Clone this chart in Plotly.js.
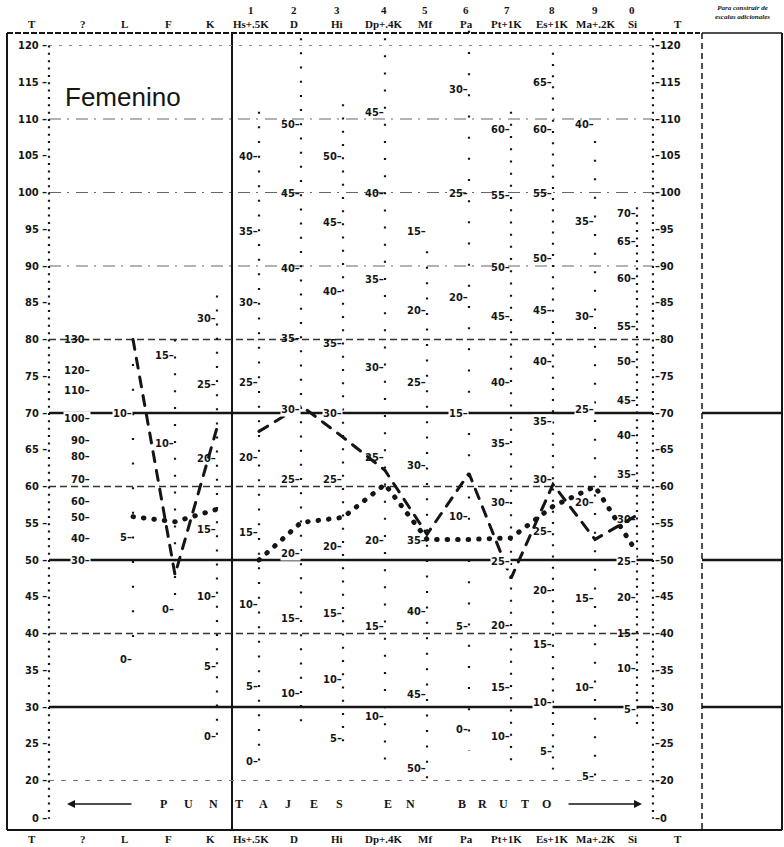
<!DOCTYPE html>
<html><head><meta charset="utf-8">
<script src="https://cdn.plot.ly/plotly-3.0.1.min.js"></script>
<style>
html,body{margin:0;padding:0;background:#fff;}
#chart{width:784px;height:847px;}
.scatterlayer .js-line{stroke-linecap:round !important;}
</style></head><body><div id="chart"></div>
<script>
// ================= DATA =================
const columns = ['T','?','L','F','K','Hs+.5K','D','Hi','Dp+.4K','Mf','Pa','Pt+1K','Es+1K','Ma+.2K','Si'];
const validityScales = ['L','F','K'];
const clinicalScales = ['Hs+.5K','D','Hi','Dp+.4K','Mf','Pa','Pt+1K','Es+1K','Ma+.2K','Si'];
const scaleNumbers = ['1','2','3','4','5','6','7','8','9','0'];

// profile 1 (dashed line), T scores
const dashedValidityT = [80, 48, 68];
const dashedClinicalT = [67.5, 71, 66.7, 62.2, 53.5, 61.8, 47.5, 60.3, 52.8, 56.1];
// profile 2 (dotted line), T scores
const dottedValidityT = [55.9, 55.2, 56.9];
const dottedClinicalT = [50, 55.1, 55.8, 60.3, 52.8, 52.8, 53.0, 57.3, 60.0, 51.0];

// T-score axis labels
const tTickLabels = [120,115,110,105,100,95,90,85,80,75,70,65,60,55,50,45,40,35,30,25,20];
const tZeroLabel = '0';

// raw-score labels of each column: [raw score, T position]
const rawQuestion = [[130,80],[120,75.8],[110,73.1],[100,69.3],[90,66.2],[80,64.1],[70,61.0],[60,58.0],[50,55.8],[40,52.9],[30,50.0]];
const rawL  = [[10,70],[5,53],[0,36.5]];
const rawF  = [[15,77.8],[10,65.8],[0,43.2]];
const rawK  = [[30,82.8],[25,73.9],[20,63.8],[15,54.2],[10,45],[5,35.5],[0,26]];
const rawHs = [[40,104.9],[35,94.7],[30,85.1],[25,74.2],[20,63.9],[15,53.8],[10,43.9],[5,32.8],[0,22.6]];
const rawD  = [[50,109.3],[45,99.9],[40,89.7],[35,80.1],[30,70.5],[25,60.9],[20,50.9],[15,42.0],[10,31.9]];
const rawHi = [[50,104.9],[45,95.9],[40,86.5],[35,79.4],[30,70.0],[25,60.9],[20,51.8],[15,42.7],[10,33.7],[5,25.7]];
const rawDp = [[45,110.9],[40,99.9],[35,88.2],[30,76.2],[25,63.9],[20,52.7],[15,40.9],[10,28.7]];
const rawMf = [[15,94.7],[20,83.9],[25,74.2],[30,62.9],[35,52.7],[40,43.0],[45,31.7],[50,21.6]];
const rawPa = [[30,114.0],[25,99.9],[20,85.7],[15,70.0],[10,55.9],[5,40.9],[0,26.9]];
const rawPt = [[60,108.6],[55,99.6],[50,89.8],[45,83.1],[40,74.2],[35,65.9],[30,57.8],[25,49.8],[20,41.1],[15,32.6],[10,26.0]];
const rawEs = [[65,115.0],[60,108.6],[55,99.9],[50,91.0],[45,83.9],[40,77.0],[35,68.8],[30,61.0],[25,53.9],[20,45.9],[15,38.5],[10,30.6],[5,23.9]];
const rawMa = [[40,109.3],[35,96.0],[30,83.1],[25,70.5],[20,57.8],[15,44.8],[10,32.6],[5,20.5]];
const rawSi = [[70,97.1],[65,93.4],[60,88.3],[55,81.8],[50,77.0],[45,71.7],[40,66.9],[35,61.7],[30,55.5],[25,49.8],[20,44.9],[15,40.0],[10,35.3],[5,29.7]];

const rawByColumn = [['?',rawQuestion],['L',rawL],['F',rawF],['K',rawK],['Hs+.5K',rawHs],['D',rawD],['Hi',rawHi],
  ['Dp+.4K',rawDp],['Mf',rawMf],['Pa',rawPa],['Pt+1K',rawPt],['Es+1K',rawEs],['Ma+.2K',rawMa],['Si',rawSi]];

// ================= LAYOUT GEOMETRY =================
const W = 784, H = 847;
const COL0 = 49, COLSTEP = 42;        // px of column 0 and column spacing
const T50PX = 560, PXPERT = 7.35;     // px of T=50 and px per T point
const ZERO_POS = 14.8;                // axis position of the "0" mark (axis break)
const RIGHT_T = 14.38;                // column position of right T axis
const xRange = [(0 - COL0) / COLSTEP, (W - COL0) / COLSTEP];
const yRange = [50 - (H - T50PX) / PXPERT, 50 + T50PX / PXPERT];
const PX = px => px / W, PY = py => 1 - py / H;
const ci = name => columns.indexOf(name);

const ink = '#151515';
const tickFont = {family: '"Liberation Sans Narrow","DejaVu Sans Condensed","Arial Narrow",sans-serif', size: 11, color: ink, weight: 'bold'};
const headFont = {family: '"Liberation Serif","DejaVu Serif",serif', size: 11, color: ink, weight: 'bold'};

// ================= TRACES =================
const dashedLine = {color: ink, width: 3, dash: '10px,9px'};
const dottedLine = {color: ink, width: 5, dash: '0.5px,10px'};
const traces = [
  {x: validityScales.map(ci), y: dashedValidityT, mode: 'lines', line: dashedLine, name: 'perfil 1'},
  {x: clinicalScales.map(ci), y: dashedClinicalT, mode: 'lines', line: dashedLine, name: 'perfil 1'},
  {x: validityScales.map(ci), y: dottedValidityT, mode: 'lines', line: dottedLine, name: 'perfil 2'},
  {x: clinicalScales.map(ci), y: dottedClinicalT, mode: 'lines', line: dottedLine, name: 'perfil 2'}
].map(t => Object.assign(t, {hoverinfo: 'skip', showlegend: false, cliponaxis: false}));

// ================= SHAPES =================
const shapes = [];
function pline(x0, y0, x1, y1, w, dash, color) {
  shapes.push({type: 'line', xref: 'paper', yref: 'paper', x0: PX(x0), y0: PY(y0), x1: PX(x1), y1: PY(y1),
    line: {color: color || ink, width: w, dash: dash || 'solid'}, layer: 'below'});
}
// frame
pline(7, 33, 7, 830, 2);
pline(7, 830, 782, 830, 2);
pline(7, 33, 700, 33, 2, '6px,2px');
pline(232, 33, 232, 830, 2);
pline(702, 33, 782, 33, 1.5);
pline(782, 33, 782, 830, 2);
pline(702, 33, 702, 830, 1.5, '6px,4px');

// horizontal T grid
const gridStyles = {
  120: ['#888', 1.1, '3px,7px'], 110: ['#666', 1.2, '12px,6px,2px,7px'], 100: ['#666', 1.2, '12px,6px,2px,7px'],
  90: ['#666', 1.2, '12px,6px,2px,7px'], 80: ['#333', 1.4, '7px,4px'], 70: [ink, 2.6, 'solid'],
  60: ['#333', 1.4, '7px,4px'], 50: [ink, 2.6, 'solid'], 40: ['#333', 1.4, '7px,4px'],
  30: [ink, 2.6, 'solid'], 20: ['#777', 1.1, '5px,7px']
};
Object.keys(gridStyles).forEach(k => {
  const t = +k, s = gridStyles[k];
  shapes.push({type: 'line', xref: 'paper', yref: 'y', x0: PX(49), x1: PX(653), y0: t, y1: t,
    line: {color: s[0], width: s[1], dash: s[2]}, layer: 'below'});
  if (t === 70 || t === 50 || t === 30) {
    shapes.push({type: 'line', xref: 'paper', yref: 'y', x0: PX(702), x1: PX(782), y0: t, y1: t,
      line: {color: s[0], width: s[1]}, layer: 'below'});
  }
});

// dotted column guides: [column, bottom T, top T, T per raw point]
const guides = [['L',36.5,80,3.35],['F',43.2,80,2.3],['K',26,86,1.92],['Hs+.5K',22.6,111,2.0],['D',27.6,121,1.93],
  ['Hi',24,112,1.8],['Dp+.4K',21,121,2.33],['Mf',20,92,2.1],['Pa',24,122,2.88],['Pt+1K',22,111,1.66],
  ['Es+1K',21.5,119,1.52],['Ma+.2K',20.5,107,2.53],['Si',27,98,1.03]];
guides.forEach(g => {
  const gap = Math.max(g[3] * PXPERT - 2, 2).toFixed(2);
  shapes.push({type: 'line', xref: 'x', yref: 'y', x0: ci(g[0]), x1: ci(g[0]), y0: g[2], y1: g[1],
    line: {color: ink, width: 2.2, dash: '2px,' + gap + 'px'}, layer: 'below'});
});
// T axes dots
[[0, 120], [RIGHT_T, 121]].forEach(a => {
  shapes.push({type: 'line', xref: 'x', yref: 'y', x0: a[0], x1: a[0], y0: a[1], y1: ZERO_POS,
    line: {color: ink, width: 2.2, dash: '2px,' + (PXPERT - 2).toFixed(2) + 'px'}, layer: 'below'});
});

// ================= ANNOTATIONS =================
const ann = [];
function onThick(t) { return [30, 50, 70].some(v => Math.abs(v - t) < 1.3); }
// left / right T labels
tTickLabels.forEach(v => {
  ann.push({x: 0, y: v, xref: 'x', yref: 'y', text: v + ' –', showarrow: false, xanchor: 'right', yanchor: 'middle',
    xshift: -1, font: tickFont, bgcolor: onThick(v) ? '#fff' : 'rgba(0,0,0,0)', borderpad: 0});
  ann.push({x: RIGHT_T, y: v, xref: 'x', yref: 'y', text: '–' + v, showarrow: false, xanchor: 'left', yanchor: 'middle',
    xshift: 1, font: tickFont, bgcolor: onThick(v) ? '#fff' : 'rgba(0,0,0,0)', borderpad: 0});
});
ann.push({x: 0, y: ZERO_POS, xref: 'x', yref: 'y', text: tZeroLabel + ' –', showarrow: false, xanchor: 'right', yanchor: 'middle', xshift: -1, font: tickFont, borderpad: 0});
ann.push({x: RIGHT_T, y: ZERO_POS, xref: 'x', yref: 'y', text: '–' + tZeroLabel, showarrow: false, xanchor: 'left', yanchor: 'middle', xshift: 1, font: tickFont, borderpad: 0});

// raw score labels
rawByColumn.forEach(([col, arr]) => {
  arr.forEach(([raw, t]) => {
    ann.push({x: ci(col), y: t, xref: 'x', yref: 'y', text: raw + '–', showarrow: false, xanchor: 'right', yanchor: 'middle',
      xshift: 0, font: tickFont, bgcolor: onThick(t) ? '#fff' : 'rgba(0,0,0,0)', borderpad: 0});
  });
});

// headers
const headPx = [32, 83, 124, 168, 211, 251, 294, 337, 384, 425, 466, 507, 552, 595, 632];
const rightTPx = 678;
function ptext(px, py, text, font) {
  ann.push({x: PX(px), y: PY(py), xref: 'paper', yref: 'paper', text: text, showarrow: false,
    xanchor: 'center', yanchor: 'middle', font: font, borderpad: 0});
}
columns.concat(['T']).forEach((c, i) => {
  const px = i < columns.length ? headPx[i] : rightTPx;
  ptext(px, 24, c, headFont);
  ptext(px, 839, c, headFont);
});
scaleNumbers.forEach((n, i) => ptext(headPx[5 + i], 10, n, headFont));
ptext(742, 13, '<i>Para construir de</i><br><i>escalas adicionales</i>',
  {family: '"Liberation Serif",serif', size: 7, color: ink, weight: 'bold'});

// sex label
ptext(123, 97, 'Femenino', {family: '"Liberation Sans",Arial,sans-serif', size: 26, color: ink});

// bottom legend
const bottomLetters = ['P','U','N','T','A','J','E','S','E','N','B','R','U','T','O'];
const bottomPx = [163, 188, 213, 239, 263, 288, 314, 339, 388, 410, 462, 482, 503, 525, 546];
bottomLetters.forEach((l, i) => ptext(bottomPx[i], 804, l, {family: '"Liberation Serif",serif', size: 12, color: ink, weight: 'bold'}));
ann.push({x: PX(67), y: PY(804), xref: 'paper', yref: 'paper', text: '', showarrow: true, ax: 66, ay: 0,
  arrowhead: 2, arrowsize: 1, arrowwidth: 1.6, arrowcolor: ink});
ann.push({x: PX(642), y: PY(804), xref: 'paper', yref: 'paper', text: '', showarrow: true, ax: -75, ay: 0,
  arrowhead: 2, arrowsize: 1, arrowwidth: 1.6, arrowcolor: ink});

const layout = {
  width: W, height: H, margin: {l: 0, r: 0, t: 0, b: 0, pad: 0},
  paper_bgcolor: '#fff', plot_bgcolor: '#fff', showlegend: false,
  xaxis: {range: xRange, visible: false, fixedrange: true},
  yaxis: {range: yRange, visible: false, fixedrange: true},
  shapes: shapes, annotations: ann
};
Plotly.newPlot('chart', traces, layout, {staticPlot: true, displayModeBar: false});
</script></body></html>
